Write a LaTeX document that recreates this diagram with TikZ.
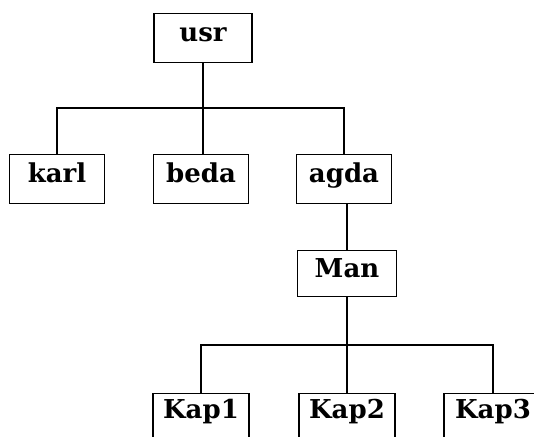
\documentclass[tikz,border=0pt]{standalone}
\usepackage{fontspec}
\setmainfont{DejaVu Serif}
\begin{document}
\begin{tikzpicture}[x=1pt,y=-1pt,
  line width=1.4pt,
  dirbox/.style={draw, anchor=north, inner sep=0pt, minimum height=49pt,
    minimum width=96pt, text height=17pt, text depth=10pt,
    font=\fontsize{26}{31}\selectfont\bfseries},
  kapbox/.style={dirbox, text height=15pt, text depth=14pt},
  link/.style={draw, line width=1.4pt}]
\useasboundingbox (0,0) rectangle (534,436);
\clip (0,0) rectangle (534,436);

% directory boxes
\node[dirbox, minimum width=98pt] (usr)  at (203,13)  {usr};
\node[dirbox, minimum width=95pt] (karl) at (57,154)  {karl};
\node[dirbox, minimum width=95pt] (beda) at (201,154) {beda};
\node[dirbox, minimum width=95pt] (agda) at (344,154) {agda};
\node[dirbox, minimum width=99pt, minimum height=46pt] (man) at (347,250) {Man};
\node[kapbox] (kap1) at (201,393) {Kap1};
\node[kapbox] (kap2) at (347,393) {Kap2};
\node[kapbox, minimum width=98pt] (kap3) at (493,393) {Kap3};

% branching points
\coordinate (b1) at (203,108);
\coordinate (b2) at (347,345);

% usr -> karl, beda, agda
\draw[link] (usr.south) -- (b1);
\draw[link] (karl.north) |- (b1) -| (agda.north);
\draw[link] (b1) -- (b1 |- beda.north);

% agda -> Man
\draw[link] (man.north) -- (man.north |- agda.south);

% Man -> Kap1, Kap2, Kap3
\draw[link] (man.south) -- (b2);
\draw[link] (kap1.north) |- (b2) -| (kap3.north);
\draw[link] (b2) -- (kap2.north);
\end{tikzpicture}
\end{document}
